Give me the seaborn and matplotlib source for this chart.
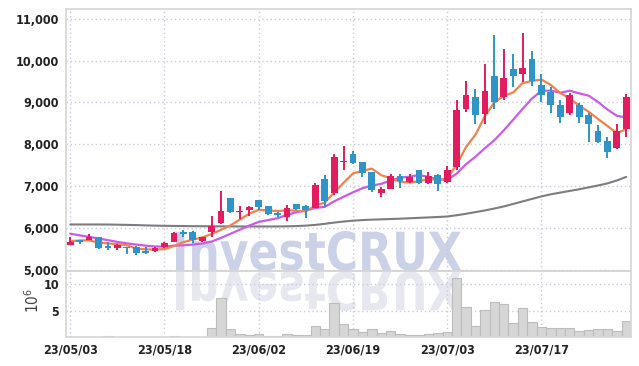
import matplotlib
matplotlib.use("Agg")
import matplotlib.pyplot as plt
import seaborn as sns
import numpy as np
import pandas as pd
from matplotlib.textpath import TextPath
from matplotlib.patches import PathPatch
from matplotlib.font_manager import FontProperties
from matplotlib.transforms import Affine2D
from matplotlib.ticker import FuncFormatter

# ---------------- data ----------------
dates = ["23/05/03", "23/05/04", "23/05/08", "23/05/09", "23/05/10", "23/05/11", "23/05/12",
         "23/05/15", "23/05/16", "23/05/17", "23/05/18", "23/05/19", "23/05/22", "23/05/23",
         "23/05/24", "23/05/25", "23/05/26", "23/05/30", "23/05/31", "23/06/01", "23/06/02",
         "23/06/05", "23/06/07", "23/06/08", "23/06/09", "23/06/12", "23/06/13", "23/06/14",
         "23/06/15", "23/06/16", "23/06/19", "23/06/20", "23/06/21", "23/06/22", "23/06/23",
         "23/06/26", "23/06/27", "23/06/28", "23/06/29", "23/06/30", "23/07/03", "23/07/04",
         "23/07/05", "23/07/06", "23/07/07", "23/07/10", "23/07/11", "23/07/12", "23/07/13",
         "23/07/14", "23/07/17", "23/07/18", "23/07/19", "23/07/20", "23/07/21", "23/07/24",
         "23/07/25", "23/07/26", "23/07/27", "23/07/28"]

open_ = [5610, 5710, 5720, 5790, 5550, 5540, 5540, 5560, 5440, 5450,
         5560, 5680, 5890, 5920, 5690, 5920, 6130, 6710, 6380, 6430,
         6670, 6520, 6360, 6270, 6570, 6520, 6490, 7180, 6830, 7580,
         7780, 7570, 7330, 6830, 6940, 7240, 7100, 7380, 7080, 7280,
         7100, 7450, 8840, 9130, 8730, 9640, 9130, 9790, 9675, 10040,
         9420, 9250, 8950, 8750, 8930, 8690, 8330, 8070, 7920, 8370]
high = [5790, 5730, 5870, 5790, 5670, 5630, 5550, 5570, 5550, 5550,
        5660, 5910, 5950, 5930, 5800, 6290, 6890, 6720, 6520, 6520,
        6670, 6540, 6380, 6560, 6590, 6550, 7070, 7280, 7760, 7960,
        7850, 7580, 7340, 6980, 7290, 7300, 7300, 7400, 7350, 7290,
        7480, 9060, 9510, 9330, 9920, 10600, 10280, 10160, 10660, 10240,
        9680, 9370, 9050, 9230, 8980, 8750, 8460, 8170, 8490, 9210]
low = [5600, 5620, 5710, 5510, 5480, 5480, 5380, 5370, 5380, 5430,
       5540, 5660, 5800, 5650, 5660, 5790, 6090, 6370, 6230, 6290,
       6430, 6310, 6260, 6170, 6430, 6240, 6480, 6510, 6800, 7400,
       7540, 7220, 6860, 6750, 6930, 6970, 7070, 7060, 7060, 6900,
       7070, 7400, 8770, 8490, 8480, 8850, 9050, 9370, 9480, 9400,
       9020, 8750, 8520, 8710, 8520, 8060, 8030, 7680, 7900, 8180]
close = [5670, 5660, 5790, 5530, 5540, 5590, 5520, 5410, 5420, 5520,
         5640, 5890, 5870, 5710, 5790, 6050, 6400, 6390, 6400, 6500,
         6510, 6330, 6310, 6490, 6460, 6430, 7020, 6650, 7710, 7600,
         7560, 7320, 6920, 6930, 7240, 7130, 7220, 7080, 7240, 7050,
         7380, 8830, 9190, 8710, 9270, 9020, 9580, 9620, 9825, 9520,
         9190, 8930, 8650, 9190, 8650, 8480, 8060, 7820, 8330, 9140]

ma5 = [5690, 5710, 5710, 5660, 5638, 5622, 5594, 5518, 5496, 5492,
       5502, 5576, 5668, 5726, 5780, 5862, 5964, 6068, 6206, 6348,
       6440, 6426, 6410, 6428, 6420, 6404, 6542, 6610, 6854, 7082,
       7308, 7368, 7422, 7266, 7194, 7108, 7088, 7120, 7182, 7144,
       7194, 7516, 7938, 8232, 8676, 9004, 9154, 9240, 9463, 9513,
       9547, 9417, 9223, 9096, 8922, 8780, 8606, 8440, 8268, 8366]
ma10 = [5870, 5830, 5795, 5755, 5715, 5675, 5640, 5610, 5585, 5565,
        5562, 5585, 5593, 5611, 5636, 5682, 5770, 5868, 5966, 6064,
        6151, 6195, 6239, 6317, 6384, 6422, 6484, 6510, 6641, 6751,
        6856, 6955, 7016, 7060, 7138, 7208, 7228, 7271, 7224, 7169,
        7151, 7302, 7529, 7707, 7910, 8099, 8335, 8589, 8848, 9095,
        9276, 9286, 9232, 9280, 9218, 9164, 9012, 8832, 8682, 8644]
ma_long = [6090, 6090, 6090, 6090, 6088, 6085, 6080, 6075, 6068, 6062,
           6058, 6055, 6052, 6050, 6048, 6046, 6045, 6044, 6043, 6042,
           6042, 6042, 6043, 6046, 6052, 6062, 6080, 6105, 6135, 6160,
           6180, 6195, 6205, 6212, 6220, 6228, 6238, 6248, 6258, 6268,
           6280, 6310, 6345, 6385, 6425, 6470, 6520, 6580, 6640, 6700,
           6760, 6810, 6850, 6890, 6930, 6975, 7020, 7070, 7140, 7225]

volume = [0.1, 0.1, 0.1, 0.1, 0.35, 0.1, 0.1, 0.1, 0.1, 0.1,
          0.1, 0.35, 0.1, 0.1, 0.1, 1.8, 7.3, 1.6, 0.7, 0.5,
          0.7, 0.3, 0.3, 0.7, 0.5, 0.5, 2.2, 1.6, 6.4, 2.5,
          1.6, 1.1, 1.6, 0.9, 1.3, 0.7, 0.5, 0.5, 0.7, 0.9,
          1.1, 11.1, 5.7, 2.3, 5.1, 6.6, 6.2, 2.7, 5.5, 2.9,
          2.0, 1.8, 1.8, 1.8, 1.3, 1.5, 1.6, 1.6, 1.3, 3.1]

price_ticks = [5000, 6000, 7000, 8000, 9000, 10000, 11000]
vol_ticks = [5, 10]
label_every = 10

# ---------------- style ----------------
sns.set_style("white")
FONT = ["DejaVu Sans", "Liberation Sans Narrow"]
plt.rcParams["font.family"] = FONT
plt.rcParams["font.stretch"] = "condensed"

UP = "#e31b5f"
DOWN = "#2f95c8"
GRID = "#c9cbdf"
SPINE = "#d6d6d6"
TXT = "#222222"

df = pd.DataFrame({"idx": np.arange(len(dates)), "date": dates, "open": open_,
                   "high": high, "low": low, "close": close, "ma5": ma5,
                   "ma10": ma10, "ma_long": ma_long, "volume": volume})

W, H = 639, 366
fig = plt.figure(figsize=(W / 100, H / 100), dpi=100)
fig.patch.set_facecolor("white")
L, R, T, MID, B = 66, 631, 9, 271, 337
ax = fig.add_axes([L / W, 1 - MID / H, (R - L) / W, (MID - T) / H])
axv = fig.add_axes([L / W, 1 - B / H, (R - L) / W, (B - MID) / H], sharex=ax)
for a in (ax, axv):
    a.set_facecolor("none")
    for s in a.spines.values():
        s.set_color(SPINE)
        s.set_linewidth(1.2)

# watermark (and its reflection)
fp = FontProperties(family=FONT, weight="bold", stretch="condensed")
tp = TextPath((0, 0), "InvestCRUX", size=1, prop=fp)
ext = tp.get_extents()
sx = 285 / ext.width
sy = 39 / ext.y1
x0 = 176 - ext.x0 * sx
base = H - 271
fig.add_artist(PathPatch(tp, transform=Affine2D().scale(sx, sy).translate(x0, base + 1),
                         facecolor="#c6cce4", edgecolor="none", alpha=0.9, zorder=-1))
fig.add_artist(PathPatch(tp, transform=Affine2D().scale(sx, -sy).translate(x0, base - 1),
                         facecolor="#e6e7ef", edgecolor="none", zorder=-1))

# moving average lines
sns.lineplot(data=df, x="idx", y="ma_long", ax=ax, color="#7d7d7d", linewidth=1.5, zorder=2)
sns.lineplot(data=df, x="idx", y="ma10", ax=ax, color="#c95be6", linewidth=1.6, zorder=2)
sns.lineplot(data=df, x="idx", y="ma5", ax=ax, color="#f0814c", linewidth=1.6, zorder=2)

# candles
colors = [UP if c >= o else DOWN for o, c in zip(df["open"], df["close"])]
ax.vlines(df["idx"], df["low"], df["high"], colors=colors, linewidth=1.4, zorder=3)
body_lo = np.minimum(df["open"], df["close"])
body_h = np.maximum(np.abs(df["close"] - df["open"]), 35)
ax.bar(df["idx"], body_h, bottom=body_lo, width=0.72, color=colors, edgecolor="none", zorder=4)

# volume
sns.barplot(data=df, x="idx", y="volume", ax=axv, native_scale=True, width=1.0,
            color="#d6d6d6", edgecolor="#bdbdbd", linewidth=0.8, saturation=1, zorder=2)

# axes limits / ticks
ax.set_xlim(-0.45, 59.5)
ax.set_ylim(4980, 11230)
axv.set_ylim(0.2, 12.3)
ax.set_yticks(price_ticks)
ax.yaxis.set_major_formatter(FuncFormatter(lambda v, p: f"{int(v):,}"))
axv.set_yticks(vol_ticks)
tick_pos = list(range(0, len(dates), label_every))
axv.set_xticks(tick_pos)
axv.set_xticklabels([dates[i] for i in tick_pos])
ax.tick_params(axis="x", labelbottom=False, length=0)
for a in (ax, axv):
    a.tick_params(axis="both", length=0, labelsize=9, labelcolor=TXT, pad=5)
    a.set_xlabel("")
    a.set_ylabel("")
    a.grid(True, linestyle=(0, (1, 2)), color=GRID, linewidth=1.0, zorder=0)
    a.set_axisbelow(True)
    for lab in a.get_xticklabels() + a.get_yticklabels():
        lab.set_fontweight("bold")
        lab.set_fontstretch("condensed")

fig.text(33 / W, 1 - 300 / H, r"$10^6$", rotation=90, ha="center", va="center",
         fontsize=11, color="#444444")

fig.savefig("out.png", dpi=100)
